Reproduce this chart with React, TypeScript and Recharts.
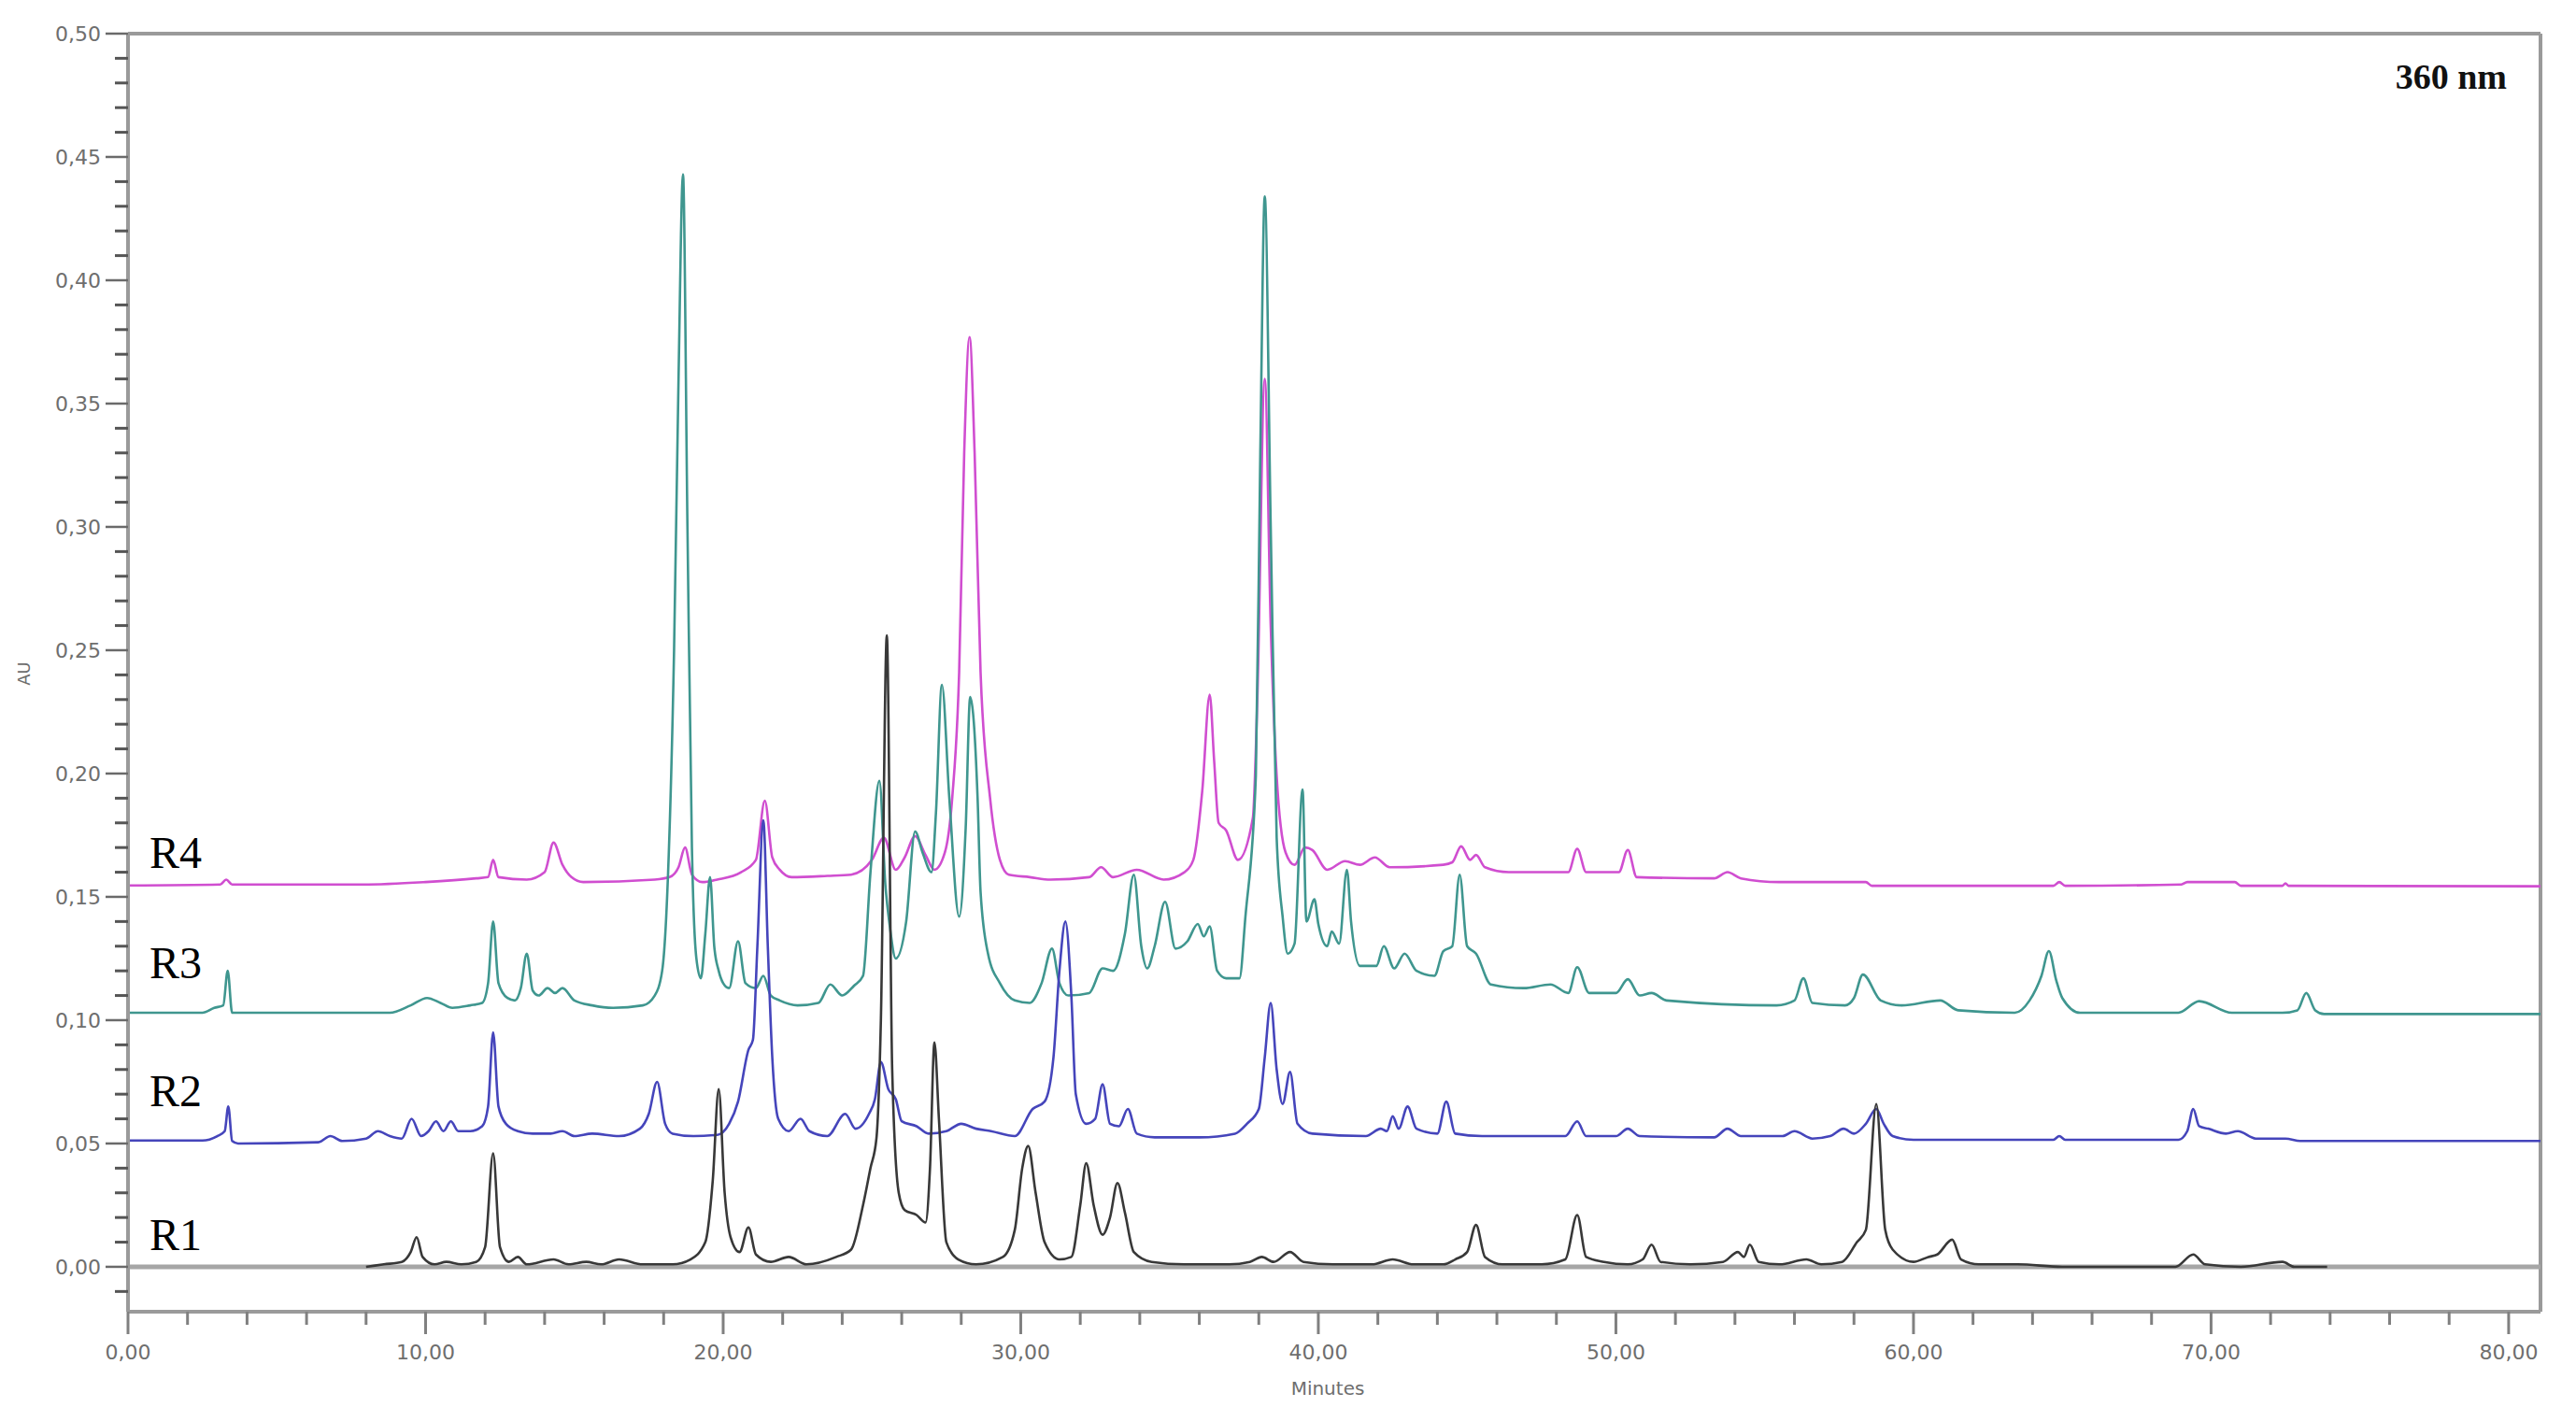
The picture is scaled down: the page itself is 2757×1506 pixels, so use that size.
import { LineChart, Line, XAxis, YAxis, ReferenceLine } from 'recharts';

// retention time (min) / absorbance (AU)
const r1Points = [
  { t: 8.0, v: 0.0 }, { t: 8.6, v: 0.001 }, { t: 9.2, v: 0.002 }, { t: 9.5, v: 0.006 }, { t: 9.7, v: 0.012 },
  { t: 9.9, v: 0.004 }, { t: 10.3, v: 0.001 }, { t: 10.7, v: 0.002 }, { t: 11.2, v: 0.001 }, { t: 11.7, v: 0.002 },
  { t: 12.0, v: 0.008 }, { t: 12.27, v: 0.046 }, { t: 12.5, v: 0.008 }, { t: 12.8, v: 0.002 }, { t: 13.1, v: 0.004 },
  { t: 13.4, v: 0.001 }, { t: 14.3, v: 0.003 }, { t: 14.8, v: 0.001 }, { t: 15.4, v: 0.002 }, { t: 15.9, v: 0.001 },
  { t: 16.5, v: 0.003 }, { t: 17.3, v: 0.001 }, { t: 18.3, v: 0.001 }, { t: 18.9, v: 0.003 }, { t: 19.4, v: 0.01 },
  { t: 19.65, v: 0.035 }, { t: 19.85, v: 0.072 }, { t: 20.05, v: 0.03 }, { t: 20.25, v: 0.012 }, { t: 20.55, v: 0.006 },
  { t: 20.85, v: 0.016 }, { t: 21.1, v: 0.005 }, { t: 21.6, v: 0.002 }, { t: 22.2, v: 0.004 }, { t: 22.8, v: 0.001 },
  { t: 23.8, v: 0.004 }, { t: 24.3, v: 0.007 }, { t: 24.7, v: 0.025 }, { t: 24.95, v: 0.04 }, { t: 25.15, v: 0.052 },
  { t: 25.3, v: 0.1 }, { t: 25.5, v: 0.256 }, { t: 25.68, v: 0.08 }, { t: 25.9, v: 0.03 }, { t: 26.1, v: 0.023 },
  { t: 26.5, v: 0.021 }, { t: 26.8, v: 0.018 }, { t: 26.95, v: 0.04 }, { t: 27.1, v: 0.091 }, { t: 27.25, v: 0.06 },
  { t: 27.5, v: 0.01 }, { t: 27.9, v: 0.003 }, { t: 28.5, v: 0.001 }, { t: 29.4, v: 0.004 }, { t: 29.8, v: 0.015 },
  { t: 30.05, v: 0.04 }, { t: 30.25, v: 0.049 }, { t: 30.5, v: 0.03 }, { t: 30.8, v: 0.01 }, { t: 31.3, v: 0.003 },
  { t: 31.7, v: 0.004 }, { t: 32.0, v: 0.025 }, { t: 32.2, v: 0.042 }, { t: 32.45, v: 0.025 }, { t: 32.75, v: 0.013 },
  { t: 33.0, v: 0.02 }, { t: 33.25, v: 0.034 }, { t: 33.5, v: 0.022 }, { t: 33.8, v: 0.006 }, { t: 34.4, v: 0.002 },
  { t: 35.5, v: 0.001 }, { t: 37.0, v: 0.001 }, { t: 37.7, v: 0.002 }, { t: 38.1, v: 0.004 }, { t: 38.5, v: 0.002 },
  { t: 39.05, v: 0.006 }, { t: 39.5, v: 0.002 }, { t: 40.5, v: 0.001 }, { t: 41.8, v: 0.001 }, { t: 42.5, v: 0.003 },
  { t: 43.2, v: 0.001 }, { t: 44.2, v: 0.001 }, { t: 44.6, v: 0.003 }, { t: 45.0, v: 0.006 }, { t: 45.3, v: 0.017 },
  { t: 45.6, v: 0.004 }, { t: 46.2, v: 0.001 }, { t: 47.5, v: 0.001 }, { t: 48.3, v: 0.003 }, { t: 48.7, v: 0.021 },
  { t: 49.0, v: 0.004 }, { t: 49.6, v: 0.002 }, { t: 50.4, v: 0.001 }, { t: 50.9, v: 0.003 }, { t: 51.2, v: 0.009 },
  { t: 51.5, v: 0.002 }, { t: 52.5, v: 0.001 }, { t: 53.6, v: 0.002 }, { t: 54.1, v: 0.006 }, { t: 54.3, v: 0.004 },
  { t: 54.5, v: 0.009 }, { t: 54.8, v: 0.002 }, { t: 55.5, v: 0.001 }, { t: 56.4, v: 0.003 }, { t: 56.9, v: 0.001 },
  { t: 57.6, v: 0.002 }, { t: 58.1, v: 0.01 }, { t: 58.4, v: 0.015 }, { t: 58.75, v: 0.066 }, { t: 59.05, v: 0.015 },
  { t: 59.3, v: 0.007 }, { t: 60.0, v: 0.002 }, { t: 60.5, v: 0.004 }, { t: 60.8, v: 0.005 }, { t: 61.3, v: 0.011 },
  { t: 61.6, v: 0.003 }, { t: 62.2, v: 0.001 }, { t: 63.5, v: 0.001 }, { t: 65.0, v: 0.0 }, { t: 68.8, v: 0.0 },
  { t: 69.4, v: 0.005 }, { t: 69.8, v: 0.001 }, { t: 71.0, v: 0.0 }, { t: 72.4, v: 0.002 }, { t: 72.8, v: 0.0 },
  { t: 73.9, v: 0.0 },
];

const r2Points = [
  { t: 0, v: 0.0512 }, { t: 2.5, v: 0.0512 }, { t: 3.0, v: 0.053 }, { t: 3.25, v: 0.055 }, { t: 3.37, v: 0.065 },
  { t: 3.5, v: 0.051 }, { t: 3.7, v: 0.05 }, { t: 6.4, v: 0.0505 }, { t: 6.8, v: 0.053 }, { t: 7.2, v: 0.051 },
  { t: 8.0, v: 0.052 }, { t: 8.4, v: 0.055 }, { t: 8.8, v: 0.053 }, { t: 9.2, v: 0.052 }, { t: 9.53, v: 0.06 },
  { t: 9.85, v: 0.053 }, { t: 10.1, v: 0.055 }, { t: 10.35, v: 0.059 }, { t: 10.6, v: 0.055 }, { t: 10.85, v: 0.059 },
  { t: 11.1, v: 0.055 }, { t: 11.5, v: 0.055 }, { t: 11.9, v: 0.057 }, { t: 12.1, v: 0.065 }, { t: 12.27, v: 0.095 },
  { t: 12.45, v: 0.065 }, { t: 12.7, v: 0.058 }, { t: 13.1, v: 0.055 }, { t: 13.6, v: 0.054 }, { t: 14.2, v: 0.054 },
  { t: 14.6, v: 0.055 }, { t: 15.0, v: 0.053 }, { t: 15.6, v: 0.054 }, { t: 16.5, v: 0.053 }, { t: 17.2, v: 0.056 },
  { t: 17.5, v: 0.062 }, { t: 17.78, v: 0.075 }, { t: 18.05, v: 0.058 }, { t: 18.3, v: 0.054 }, { t: 19.0, v: 0.053 },
  { t: 19.8, v: 0.0535 }, { t: 20.2, v: 0.058 }, { t: 20.5, v: 0.067 }, { t: 20.85, v: 0.088 }, { t: 21.0, v: 0.092 },
  { t: 21.15, v: 0.13 }, { t: 21.35, v: 0.181 }, { t: 21.5, v: 0.13 }, { t: 21.65, v: 0.085 }, { t: 21.85, v: 0.06 },
  { t: 22.2, v: 0.055 }, { t: 22.6, v: 0.06 }, { t: 22.9, v: 0.055 }, { t: 23.5, v: 0.053 }, { t: 24.1, v: 0.062 },
  { t: 24.45, v: 0.056 }, { t: 24.9, v: 0.062 }, { t: 25.1, v: 0.068 }, { t: 25.3, v: 0.083 }, { t: 25.55, v: 0.072 },
  { t: 25.8, v: 0.068 }, { t: 26.0, v: 0.059 }, { t: 26.5, v: 0.057 }, { t: 26.9, v: 0.054 }, { t: 27.5, v: 0.055 },
  { t: 28.0, v: 0.058 }, { t: 28.5, v: 0.056 }, { t: 29.0, v: 0.055 }, { t: 29.8, v: 0.053 }, { t: 30.4, v: 0.064 },
  { t: 30.8, v: 0.067 }, { t: 31.1, v: 0.085 }, { t: 31.3, v: 0.12 }, { t: 31.5, v: 0.14 }, { t: 31.7, v: 0.11 },
  { t: 31.85, v: 0.07 }, { t: 32.2, v: 0.058 }, { t: 32.5, v: 0.06 }, { t: 32.75, v: 0.074 }, { t: 33.0, v: 0.058 },
  { t: 33.3, v: 0.057 }, { t: 33.6, v: 0.064 }, { t: 33.9, v: 0.054 }, { t: 34.5, v: 0.0525 }, { t: 36.0, v: 0.0525 },
  { t: 37.2, v: 0.054 }, { t: 37.6, v: 0.058 }, { t: 38.0, v: 0.064 }, { t: 38.2, v: 0.085 }, { t: 38.4, v: 0.107 },
  { t: 38.6, v: 0.08 }, { t: 38.8, v: 0.066 }, { t: 39.05, v: 0.079 }, { t: 39.3, v: 0.058 }, { t: 39.8, v: 0.054 },
  { t: 41.6, v: 0.053 }, { t: 42.1, v: 0.056 }, { t: 42.3, v: 0.055 }, { t: 42.5, v: 0.061 }, { t: 42.7, v: 0.056 },
  { t: 43.0, v: 0.065 }, { t: 43.3, v: 0.056 }, { t: 44.0, v: 0.054 }, { t: 44.3, v: 0.067 }, { t: 44.6, v: 0.054 },
  { t: 45.5, v: 0.053 }, { t: 48.3, v: 0.053 }, { t: 48.7, v: 0.059 }, { t: 49.0, v: 0.053 }, { t: 50.0, v: 0.053 },
  { t: 50.4, v: 0.056 }, { t: 50.8, v: 0.053 }, { t: 53.3, v: 0.0525 }, { t: 53.75, v: 0.056 }, { t: 54.2, v: 0.053 },
  { t: 55.6, v: 0.053 }, { t: 56.0, v: 0.055 }, { t: 56.6, v: 0.052 }, { t: 57.2, v: 0.053 }, { t: 57.65, v: 0.056 },
  { t: 58.0, v: 0.054 }, { t: 58.4, v: 0.058 }, { t: 58.75, v: 0.064 }, { t: 59.0, v: 0.058 }, { t: 59.3, v: 0.053 },
  { t: 60.0, v: 0.0515 }, { t: 64.7, v: 0.0515 }, { t: 64.9, v: 0.053 }, { t: 65.1, v: 0.0515 }, { t: 68.9, v: 0.0515 },
  { t: 69.2, v: 0.055 }, { t: 69.4, v: 0.064 }, { t: 69.6, v: 0.057 }, { t: 69.9, v: 0.056 }, { t: 70.5, v: 0.054 },
  { t: 70.9, v: 0.055 }, { t: 71.5, v: 0.052 }, { t: 72.5, v: 0.052 }, { t: 73.0, v: 0.051 }, { t: 81.07, v: 0.051 },
];

const r3Points = [
  { t: 0, v: 0.103 }, { t: 2.5, v: 0.103 }, { t: 2.9, v: 0.105 }, { t: 3.2, v: 0.106 }, { t: 3.35, v: 0.12 },
  { t: 3.5, v: 0.103 }, { t: 5.0, v: 0.103 }, { t: 8.8, v: 0.103 }, { t: 9.5, v: 0.106 }, { t: 10.05, v: 0.109 },
  { t: 10.5, v: 0.107 }, { t: 10.9, v: 0.105 }, { t: 11.5, v: 0.106 }, { t: 11.9, v: 0.107 }, { t: 12.1, v: 0.115 },
  { t: 12.27, v: 0.14 }, { t: 12.45, v: 0.115 }, { t: 12.75, v: 0.109 }, { t: 13.0, v: 0.108 }, { t: 13.2, v: 0.113 },
  { t: 13.4, v: 0.127 }, { t: 13.6, v: 0.112 }, { t: 13.8, v: 0.11 }, { t: 14.1, v: 0.113 }, { t: 14.35, v: 0.111 },
  { t: 14.6, v: 0.113 }, { t: 15.0, v: 0.108 }, { t: 15.6, v: 0.106 }, { t: 16.3, v: 0.105 }, { t: 17.3, v: 0.106 },
  { t: 17.7, v: 0.11 }, { t: 17.95, v: 0.12 }, { t: 18.15, v: 0.16 }, { t: 18.35, v: 0.25 }, { t: 18.5, v: 0.36 },
  { t: 18.65, v: 0.443 }, { t: 18.8, v: 0.3 }, { t: 18.95, v: 0.17 }, { t: 19.1, v: 0.125 }, { t: 19.25, v: 0.117 },
  { t: 19.4, v: 0.135 }, { t: 19.56, v: 0.158 }, { t: 19.7, v: 0.13 }, { t: 19.85, v: 0.12 }, { t: 20.0, v: 0.115 },
  { t: 20.2, v: 0.113 }, { t: 20.5, v: 0.132 }, { t: 20.75, v: 0.115 }, { t: 21.1, v: 0.113 }, { t: 21.35, v: 0.118 },
  { t: 21.6, v: 0.11 }, { t: 21.9, v: 0.108 }, { t: 22.5, v: 0.106 }, { t: 23.2, v: 0.107 }, { t: 23.6, v: 0.1145 },
  { t: 24.0, v: 0.11 }, { t: 24.4, v: 0.114 }, { t: 24.7, v: 0.118 }, { t: 24.95, v: 0.16 }, { t: 25.25, v: 0.197 },
  { t: 25.45, v: 0.155 }, { t: 25.6, v: 0.138 }, { t: 25.8, v: 0.125 }, { t: 26.15, v: 0.14 }, { t: 26.45, v: 0.1765 },
  { t: 26.7, v: 0.168 }, { t: 27.0, v: 0.16 }, { t: 27.15, v: 0.184 }, { t: 27.35, v: 0.236 }, { t: 27.6, v: 0.19 },
  { t: 27.93, v: 0.142 }, { t: 28.15, v: 0.178 }, { t: 28.3, v: 0.231 }, { t: 28.55, v: 0.19 }, { t: 28.65, v: 0.152 },
  { t: 28.9, v: 0.127 }, { t: 29.3, v: 0.115 }, { t: 29.8, v: 0.108 }, { t: 30.3, v: 0.107 }, { t: 30.7, v: 0.115 },
  { t: 31.05, v: 0.129 }, { t: 31.3, v: 0.115 }, { t: 31.6, v: 0.11 }, { t: 32.3, v: 0.111 }, { t: 32.75, v: 0.121 },
  { t: 33.1, v: 0.12 }, { t: 33.5, v: 0.135 }, { t: 33.8, v: 0.159 }, { t: 34.05, v: 0.13 }, { t: 34.25, v: 0.121 },
  { t: 34.5, v: 0.13 }, { t: 34.85, v: 0.148 }, { t: 35.2, v: 0.129 }, { t: 35.6, v: 0.132 }, { t: 35.95, v: 0.139 },
  { t: 36.15, v: 0.134 }, { t: 36.35, v: 0.138 }, { t: 36.6, v: 0.12 }, { t: 36.9, v: 0.117 }, { t: 37.35, v: 0.117 },
  { t: 37.55, v: 0.142 }, { t: 37.9, v: 0.199 }, { t: 38.05, v: 0.33 }, { t: 38.2, v: 0.434 }, { t: 38.4, v: 0.3 },
  { t: 38.6, v: 0.174 }, { t: 38.8, v: 0.142 }, { t: 38.97, v: 0.127 }, { t: 39.2, v: 0.131 }, { t: 39.47, v: 0.1935 },
  { t: 39.6, v: 0.14 }, { t: 39.87, v: 0.149 }, { t: 40.0, v: 0.139 }, { t: 40.3, v: 0.13 }, { t: 40.45, v: 0.136 },
  { t: 40.7, v: 0.131 }, { t: 40.96, v: 0.161 }, { t: 41.1, v: 0.14 }, { t: 41.4, v: 0.122 }, { t: 41.95, v: 0.122 },
  { t: 42.2, v: 0.13 }, { t: 42.55, v: 0.121 }, { t: 42.9, v: 0.127 }, { t: 43.3, v: 0.12 }, { t: 43.9, v: 0.118 },
  { t: 44.2, v: 0.128 }, { t: 44.5, v: 0.13 }, { t: 44.75, v: 0.159 }, { t: 45.0, v: 0.13 }, { t: 45.3, v: 0.127 },
  { t: 45.8, v: 0.1145 }, { t: 46.9, v: 0.113 }, { t: 47.8, v: 0.1145 }, { t: 48.4, v: 0.111 }, { t: 48.7, v: 0.1215 },
  { t: 49.1, v: 0.111 }, { t: 50.0, v: 0.111 }, { t: 50.4, v: 0.1166 }, { t: 50.8, v: 0.11 }, { t: 51.2, v: 0.111 },
  { t: 51.7, v: 0.108 }, { t: 55.4, v: 0.106 }, { t: 56.0, v: 0.108 }, { t: 56.3, v: 0.117 }, { t: 56.6, v: 0.107 },
  { t: 57.7, v: 0.106 }, { t: 58.0, v: 0.109 }, { t: 58.3, v: 0.1185 }, { t: 58.9, v: 0.108 }, { t: 59.6, v: 0.106 },
  { t: 60.9, v: 0.108 }, { t: 61.5, v: 0.104 }, { t: 63.4, v: 0.103 }, { t: 63.9, v: 0.108 }, { t: 64.3, v: 0.118 },
  { t: 64.55, v: 0.128 }, { t: 64.8, v: 0.116 }, { t: 65.0, v: 0.109 }, { t: 65.6, v: 0.103 }, { t: 68.9, v: 0.103 },
  { t: 69.6, v: 0.1077 }, { t: 70.7, v: 0.103 }, { t: 72.4, v: 0.103 }, { t: 72.9, v: 0.104 }, { t: 73.2, v: 0.111 },
  { t: 73.5, v: 0.104 }, { t: 73.8, v: 0.1025 }, { t: 81.07, v: 0.1025 },
];

const r4Points = [
  { t: 0, v: 0.1546 }, { t: 3.1, v: 0.155 }, { t: 3.3, v: 0.157 }, { t: 3.5, v: 0.155 }, { t: 7.9, v: 0.155 },
  { t: 10.0, v: 0.156 }, { t: 11.7, v: 0.1575 }, { t: 12.1, v: 0.158 }, { t: 12.27, v: 0.165 }, { t: 12.45, v: 0.158 },
  { t: 13.4, v: 0.157 }, { t: 14.0, v: 0.16 }, { t: 14.3, v: 0.172 }, { t: 14.6, v: 0.163 }, { t: 14.9, v: 0.158 },
  { t: 15.3, v: 0.156 }, { t: 17.7, v: 0.157 }, { t: 18.2, v: 0.158 }, { t: 18.5, v: 0.162 }, { t: 18.72, v: 0.17 },
  { t: 18.95, v: 0.159 }, { t: 19.3, v: 0.156 }, { t: 19.8, v: 0.157 }, { t: 20.6, v: 0.16 }, { t: 21.1, v: 0.165 },
  { t: 21.4, v: 0.189 }, { t: 21.65, v: 0.166 }, { t: 21.9, v: 0.161 }, { t: 22.3, v: 0.158 }, { t: 23.5, v: 0.1585 },
  { t: 24.3, v: 0.159 }, { t: 25.0, v: 0.165 }, { t: 25.4, v: 0.174 }, { t: 25.8, v: 0.161 }, { t: 26.1, v: 0.166 },
  { t: 26.45, v: 0.1746 }, { t: 26.8, v: 0.167 }, { t: 27.1, v: 0.161 }, { t: 27.45, v: 0.168 }, { t: 27.7, v: 0.1905 },
  { t: 27.93, v: 0.241 }, { t: 28.1, v: 0.33 }, { t: 28.28, v: 0.377 }, { t: 28.45, v: 0.33 }, { t: 28.65, v: 0.241 },
  { t: 28.97, v: 0.19 }, { t: 29.3, v: 0.165 }, { t: 29.6, v: 0.159 }, { t: 30.3, v: 0.158 }, { t: 31.0, v: 0.157 },
  { t: 32.3, v: 0.158 }, { t: 32.7, v: 0.162 }, { t: 33.1, v: 0.158 }, { t: 33.9, v: 0.161 }, { t: 34.8, v: 0.157 },
  { t: 35.5, v: 0.16 }, { t: 35.8, v: 0.165 }, { t: 36.1, v: 0.193 }, { t: 36.35, v: 0.232 }, { t: 36.5, v: 0.205 },
  { t: 36.65, v: 0.18 }, { t: 36.9, v: 0.177 }, { t: 37.3, v: 0.165 }, { t: 37.8, v: 0.182 }, { t: 37.95, v: 0.23 },
  { t: 38.2, v: 0.36 }, { t: 38.4, v: 0.26 }, { t: 38.6, v: 0.199 }, { t: 38.9, v: 0.168 }, { t: 39.2, v: 0.163 },
  { t: 39.55, v: 0.17 }, { t: 39.8, v: 0.169 }, { t: 40.3, v: 0.161 }, { t: 40.9, v: 0.1645 }, { t: 41.4, v: 0.163 },
  { t: 41.9, v: 0.166 }, { t: 42.4, v: 0.162 }, { t: 44.2, v: 0.163 }, { t: 44.5, v: 0.164 }, { t: 44.8, v: 0.1705 },
  { t: 45.1, v: 0.165 }, { t: 45.3, v: 0.167 }, { t: 45.6, v: 0.162 }, { t: 46.4, v: 0.16 }, { t: 48.4, v: 0.16 },
  { t: 48.7, v: 0.1695 }, { t: 49.0, v: 0.16 }, { t: 50.1, v: 0.16 }, { t: 50.4, v: 0.169 }, { t: 50.7, v: 0.158 },
  { t: 53.3, v: 0.1575 }, { t: 53.75, v: 0.16 }, { t: 54.2, v: 0.1575 }, { t: 55.5, v: 0.156 }, { t: 58.4, v: 0.156 },
  { t: 58.6, v: 0.1545 }, { t: 64.7, v: 0.1545 }, { t: 64.9, v: 0.156 }, { t: 65.1, v: 0.1545 }, { t: 69.0, v: 0.155 },
  { t: 69.2, v: 0.156 }, { t: 70.8, v: 0.156 }, { t: 71.0, v: 0.1545 }, { t: 72.4, v: 0.1545 }, { t: 72.5, v: 0.1555 },
  { t: 72.6, v: 0.1545 }, { t: 81.07, v: 0.1543 },
];

const xTicks = [0, 2, 4, 6, 8, 10, 12, 14, 16, 18, 20, 22, 24, 26, 28, 30, 32, 34, 36, 38, 40, 42, 44, 46, 48, 50,
  52, 54, 56, 58, 60, 62, 64, 66, 68, 70, 72, 74, 76, 78, 80];
const xLabelled = [0, 10, 20, 30, 40, 50, 60, 70, 80];

const yTicks = [-0.01, 0, 0.01, 0.02, 0.03, 0.04, 0.05, 0.06, 0.07, 0.08, 0.09, 0.1, 0.11, 0.12, 0.13, 0.14, 0.15,
  0.16, 0.17, 0.18, 0.19, 0.2, 0.21, 0.22, 0.23, 0.24, 0.25, 0.26, 0.27, 0.28, 0.29, 0.3, 0.31, 0.32, 0.33, 0.34,
  0.35, 0.36, 0.37, 0.38, 0.39, 0.4, 0.41, 0.42, 0.43, 0.44, 0.45, 0.46, 0.47, 0.48, 0.49, 0.5];
const yLabelled = [0, 0.05, 0.1, 0.15, 0.2, 0.25, 0.3, 0.35, 0.4, 0.45, 0.5];

const traceLabels = ['R4', 'R3', 'R2', 'R1'];

const X_MAX = 81.07;
const Y_MIN = -0.0182;
const Y_MAX = 0.5;

const fmt = (v: number) => v.toFixed(2).replace('.', ',');
const isIn = (list: number[], v: number) => list.some((m) => Math.abs(m - v) < 1e-6);

const axisGray = '#9a9a9a';
const tickGray = '#808080';
const labelGray = '#6e6e6e';

function XTick({ x, y, payload }: any) {
  const major = isIn(xLabelled, payload.value);
  return (
    <g>
      <line x1={x} x2={x} y1={y} y2={y + (major ? 24 : 14)} stroke={tickGray} strokeWidth={3} />
      {major && (
        <text x={x} y={y + 51} textAnchor="middle" fontFamily="DejaVu Sans" fontSize={22} fill={labelGray}>
          {fmt(payload.value)}
        </text>
      )}
    </g>
  );
}

function YTick({ x, y, payload }: any) {
  const major = isIn(yLabelled, payload.value);
  return (
    <g>
      <line x1={x - (major ? 24 : 14)} x2={x} y1={y} y2={y} stroke={major ? '#6a6a6a' : '#555'} strokeWidth={major ? 2.5 : 3} />
      {major && (
        <text x={x - 29} y={y + 8} textAnchor="end" fontFamily="DejaVu Sans" fontSize={22} fill={labelGray}>
          {fmt(payload.value)}
        </text>
      )}
    </g>
  );
}

const labelTops = [889, 1007, 1144, 1298];

export default function App() {
  return (
    <div style={{ position: 'absolute', left: 0, top: 0, width: 2757, height: 1506, background: '#fff' }}>
      <LineChart width={2757} height={1506} margin={{ top: 36, right: 38, left: 0, bottom: 0 }}>
        <XAxis
          type="number"
          dataKey="t"
          domain={[0, X_MAX]}
          ticks={xTicks}
          tick={<XTick />}
          tickLine={false}
          tickSize={0}
          tickMargin={0}
          axisLine={{ stroke: axisGray, strokeWidth: 4 }}
          height={102}
          allowDataOverflow
          interval={0}
        />
        <YAxis
          type="number"
          domain={[Y_MIN, Y_MAX]}
          ticks={yTicks}
          tick={<YTick />}
          tickLine={false}
          tickSize={0}
          tickMargin={0}
          axisLine={{ stroke: axisGray, strokeWidth: 4 }}
          width={137}
          allowDataOverflow
          interval={0}
        />
        <ReferenceLine y={Y_MAX} stroke={axisGray} strokeWidth={4} />
        <ReferenceLine x={X_MAX} stroke={axisGray} strokeWidth={4} />
        <ReferenceLine y={0} stroke="#a6a6a6" strokeWidth={5} />
        <Line data={r4Points} dataKey="v" type="monotone" stroke="#d04ed0" strokeWidth={2.6} dot={false} isAnimationActive={false} />
        <Line data={r3Points} dataKey="v" type="monotone" stroke="#3f968f" strokeWidth={2.6} dot={false} isAnimationActive={false} />
        <Line data={r2Points} dataKey="v" type="monotone" stroke="#4545bb" strokeWidth={2.6} dot={false} isAnimationActive={false} />
        <Line data={r1Points} dataKey="v" type="monotone" stroke="#383838" strokeWidth={2.6} dot={false} isAnimationActive={false} />
      </LineChart>

      {traceLabels.map((name, i) => (
        <div
          key={name}
          style={{
            position: 'absolute',
            left: 160,
            top: labelTops[i],
            fontFamily: 'Liberation Serif',
            fontSize: 48,
            lineHeight: '48px',
            color: '#000',
          }}
        >
          {name}
        </div>
      ))}

      <div
        style={{
          position: 'absolute',
          right: 2757 - 2683,
          top: 62,
          fontFamily: 'Liberation Serif',
          fontWeight: 'bold',
          fontSize: 38,
          lineHeight: '40px',
          color: '#111',
          whiteSpace: 'nowrap',
        }}
      >
        360 nm
      </div>

      <div
        style={{
          position: 'absolute',
          left: 25,
          top: 721,
          transform: 'translate(-50%, -50%) rotate(-90deg)',
          fontFamily: 'DejaVu Sans',
          fontSize: 18,
          color: labelGray,
        }}
      >
        AU
      </div>

      <div
        style={{
          position: 'absolute',
          left: 1421,
          top: 1486,
          transform: 'translate(-50%, -50%)',
          fontFamily: 'DejaVu Sans',
          fontSize: 20,
          color: labelGray,
          whiteSpace: 'nowrap',
        }}
      >
        Minutes
      </div>
    </div>
  );
}
